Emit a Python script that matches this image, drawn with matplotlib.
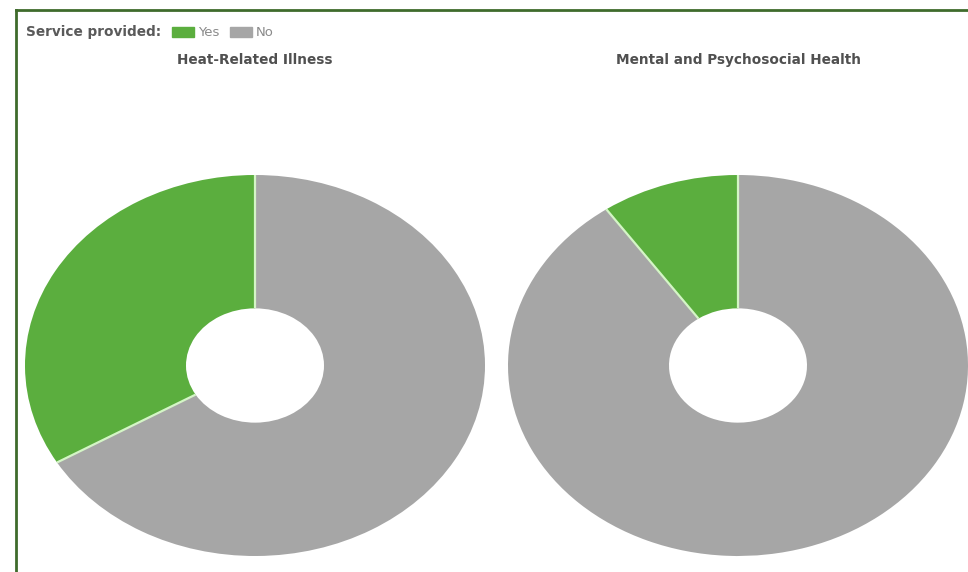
import matplotlib
matplotlib.use("Agg")
import matplotlib.pyplot as plt
import numpy as np
from matplotlib.lines import Line2D
from matplotlib.patches import Rectangle

# data
titles = ["Heat-Related Illness", "Mental and Psychosocial Health"]
labels = ["Yes", "No"]
yes_share = [33.5, 9.7]
no_share = [66.5, 90.3]

colors = ["#5bae3e", "#a6a6a6"]
edge = "#d4f5c6"

W, H = 968, 572
fig = plt.figure(figsize=(W / 100, H / 100), dpi=100)

def px_axes(x0, y0, x1, y1):
    # pixel box (top-left origin) -> figure axes
    return fig.add_axes([x0 / W, 1 - y1 / H, (x1 - x0) / W, (y1 - y0) / H])

boxes = [(25, 175, 485, 556), (508, 175, 968, 556)]
title_y = 60
hole = 0.3

for i in range(2):
    ax = px_axes(*boxes[i])
    vals = [yes_share[i], no_share[i]]
    ax.pie(vals, colors=colors, startangle=90, counterclock=True, radius=1,
           wedgeprops=dict(width=1 - hole, edgecolor="none", linewidth=0))
    # pale separator lines between the slices
    total = sum(vals)
    for ang in [90, 90 + 360 * vals[0] / total]:
        a = np.deg2rad(ang)
        ax.plot([hole * np.cos(a), np.cos(a)], [hole * np.sin(a), np.sin(a)],
                color=edge, linewidth=1.6, solid_capstyle="butt")
    ax.set_aspect("auto")
    ax.set_xlim(-1.0, 1.0)
    ax.set_ylim(-1.0, 1.0)
    ax.axis("off")
    cx = (boxes[i][0] + boxes[i][2]) / 2 / W
    fig.text(cx, 1 - title_y / H, titles[i], ha="center", va="center",
             fontsize=9.8, fontweight="bold", color="#505050")

# legend row
ly = 1 - 32 / H
fig.text(26 / W, ly, "Service provided:", ha="left", va="center",
         fontsize=9.8, fontweight="bold", color="#5a5a5a")
fig.patches.append(Rectangle((172 / W, ly - 5 / H), 22 / W, 10 / H,
                             transform=fig.transFigure, color=colors[0]))
fig.text(198 / W, ly, labels[0], ha="left", va="center", fontsize=9.5, color="#8a8a8a")
fig.patches.append(Rectangle((230 / W, ly - 5 / H), 22 / W, 10 / H,
                             transform=fig.transFigure, color=colors[1]))
fig.text(256 / W, ly, labels[1], ha="left", va="center", fontsize=9.5, color="#8a8a8a")

# border, only top and left visible in the crop
fig.add_artist(Line2D([16 / W, 1], [1 - 10 / H, 1 - 10 / H], transform=fig.transFigure,
                      color="#3f6b2c", linewidth=2))
fig.add_artist(Line2D([16 / W, 16 / W], [0, 1 - 10 / H], transform=fig.transFigure,
                      color="#3f6b2c", linewidth=2))

fig.savefig("out.png", dpi=100, facecolor="white")
